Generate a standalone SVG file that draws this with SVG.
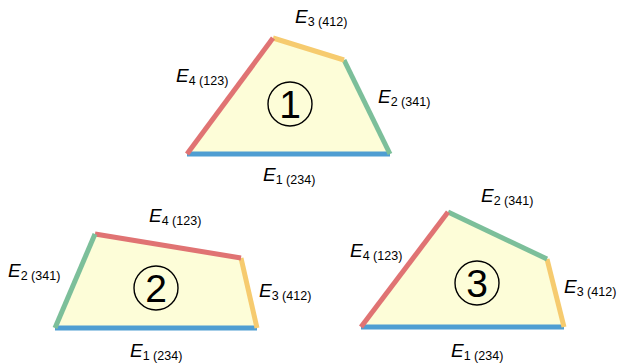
<svg xmlns="http://www.w3.org/2000/svg" width="618" height="364" viewBox="0 0 618 364">
<style>
.fill{fill:#fdfdd8;stroke:none}
.e{fill:none;stroke-width:5;stroke-linecap:butt}
.r{stroke:#e07373}
.y{stroke:#f6cb6f}
.g{stroke:#7cbf9a}
.b{stroke:#4f9ed2}
.lbl{font-family:"Liberation Sans",Arial,sans-serif;font-size:19px;fill:#000}
.lbl .i{font-style:italic}
.lbl .s{font-size:12.5px}
.num{fill:none;stroke:#000;stroke-width:1.4}
.dg{font-family:"Liberation Sans",Arial,sans-serif;font-size:39px;fill:#000;text-anchor:middle}
</style>
<g id="shape1">
<polygon class="fill" points="187,154 390,154 344,60 273,38"/>
<circle class="num" cx="290" cy="104" r="22"/>
<text class="dg" x="290" y="118">1</text>
</g>
<g id="shape2">
<polygon class="fill" points="55,328 257,328 241,258 95,234"/>
<circle class="num" cx="156" cy="288" r="22"/>
<text class="dg" x="156" y="302">2</text>
</g>
<g id="shape3">
<polygon class="fill" points="361,327 564,327 547,259 448,212"/>
<circle class="num" cx="477" cy="283" r="22"/>
<text class="dg" x="477" y="297">3</text>
</g>
<g id="connectors">
<line class="e b" x1="187" y1="154" x2="390" y2="154"/>
<line class="e g" x1="390" y1="154" x2="344" y2="60"/>
<line class="e y" x1="344" y1="60" x2="273" y2="38"/>
<line class="e r" x1="273" y1="38" x2="187" y2="154"/>
<line class="e b" x1="55" y1="328" x2="257" y2="328"/>
<line class="e y" x1="257" y1="328" x2="241" y2="258"/>
<line class="e r" x1="241" y1="258" x2="95" y2="234"/>
<line class="e g" x1="95" y1="234" x2="55" y2="328"/>
<line class="e b" x1="361" y1="327" x2="564" y2="327"/>
<line class="e y" x1="564" y1="327" x2="547" y2="259"/>
<line class="e g" x1="547" y1="259" x2="448" y2="212"/>
<line class="e r" x1="448" y1="212" x2="361" y2="327"/>
</g>
<g id="labels">
<text class="lbl" x="295" y="23"><tspan class="i">E</tspan><tspan class="s" dy="3">3 (412)</tspan></text>
<text class="lbl" x="176" y="82"><tspan class="i">E</tspan><tspan class="s" dy="3">4 (123)</tspan></text>
<text class="lbl" x="378" y="103"><tspan class="i">E</tspan><tspan class="s" dy="3">2 (341)</tspan></text>
<text class="lbl" x="263" y="181"><tspan class="i">E</tspan><tspan class="s" dy="3">1 (234)</tspan></text>
<text class="lbl" x="149" y="222"><tspan class="i">E</tspan><tspan class="s" dy="3">4 (123)</tspan></text>
<text class="lbl" x="8" y="277"><tspan class="i">E</tspan><tspan class="s" dy="3">2 (341)</tspan></text>
<text class="lbl" x="259" y="297"><tspan class="i">E</tspan><tspan class="s" dy="3">3 (412)</tspan></text>
<text class="lbl" x="130" y="357"><tspan class="i">E</tspan><tspan class="s" dy="3">1 (234)</tspan></text>
<text class="lbl" x="481" y="202"><tspan class="i">E</tspan><tspan class="s" dy="3">2 (341)</tspan></text>
<text class="lbl" x="350" y="257"><tspan class="i">E</tspan><tspan class="s" dy="3">4 (123)</tspan></text>
<text class="lbl" x="564" y="293"><tspan class="i">E</tspan><tspan class="s" dy="3">3 (412)</tspan></text>
<text class="lbl" x="451" y="357"><tspan class="i">E</tspan><tspan class="s" dy="3">1 (234)</tspan></text>
</g>
</svg>
